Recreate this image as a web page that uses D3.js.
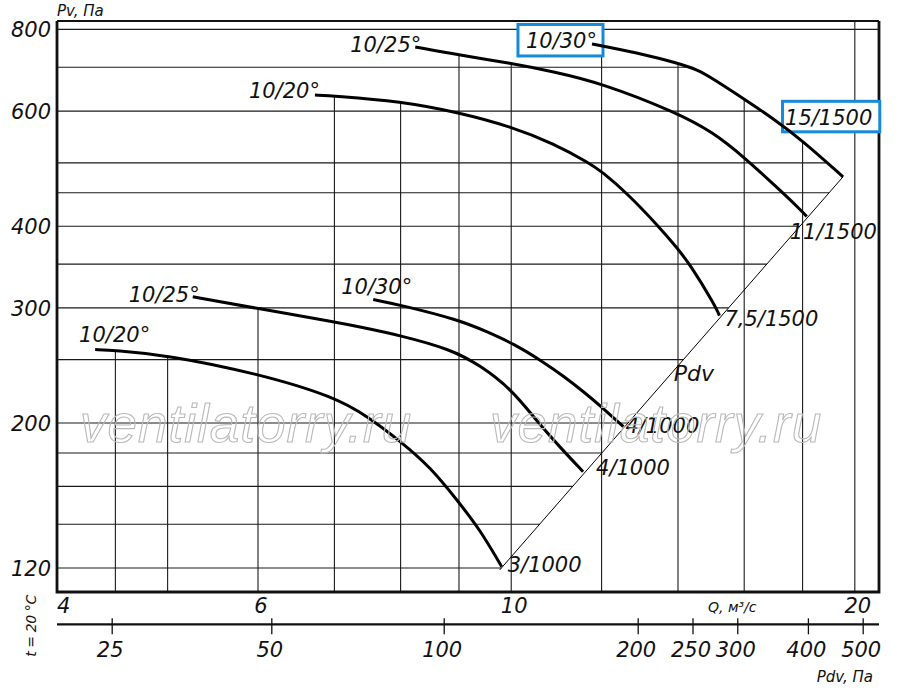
<!DOCTYPE html>
<html><head><meta charset="utf-8">
<script src="https://cdn.jsdelivr.net/npm/d3@7"></script>
<style>
html,body{margin:0;padding:0;background:#fff;}
svg{display:block;}
text{font-family:"DejaVu Sans",sans-serif;font-style:italic;fill:#111;}
</style></head><body>
<svg id="chart" width="900" height="694"></svg>
<script>
// ---------- data ----------
const qTickLabels = [4, 6, 10, 20];
const qGrid = [4.5, 5, 6, 7, 8, 9, 10, 12, 14, 16, 18, 20];
const pTickLabels = [120, 200, 300, 400, 600, 800];
const pGrid = [120, 140, 160, 180, 200, 250, 300, 350, 400, 450, 500, 600, 700, 800];
const pdvTickLabels = [25, 50, 100, 200, 250, 300, 400, 500];

// [Q m3/s, Pv Pa]
const upper20 = [[6.73,635],[7.0,633],[8.0,621],[9.0,597],[10.0,568],[10.9,535],[11.72,499],[12.0,485],[12.62,450],[13.46,400],[13.93,373],[14.34,350],[15.08,303],[15.22,292]];
const upper25 = [[8.24,752],[9.0,731],[10.0,710],[10.9,689],[12.0,662],[13.93,598],[15.03,557],[16.0,510],[17.2,454],[17.97,422],[18.15,414]];
const upper30 = [[11.77,760],[12.0,755],[13.14,731],[13.93,712],[14.58,694],[15.03,672],[16.0,626],[16.97,584],[17.97,542],[19.53,476]];
const lower20 = [[4.32,259],[4.49,258.4],[5.0,254],[6.0,238],[7.0,219.4],[7.49,204.5],[8.0,187.4],[8.49,171.5],[9.01,150.8],[9.39,137.3],[9.81,120.6]];
const lower25 = [[5.26,312],[6.0,299.3],[7.0,285.5],[7.37,280.5],[8.0,272.2],[8.84,259.5],[9.39,245.2],[10.02,224.7],[10.51,202.1],[11.03,183.8],[11.56,168.5]];
const lower30 = [[7.57,309],[8.0,303],[9.01,287.4],[9.52,275.9],[10.03,264.9],[10.67,248],[11.11,236],[11.61,222.3],[12.0,211.6],[12.54,197.5]];
const pdvLine = [[9.77,119.2],[19.53,476]];

const curves = [upper20, upper25, upper30, lower20, lower25, lower30];
const startLabels = ["10/20°", "10/25°", "10/30°", "10/20°", "10/25°", "10/30°"];
const endLabels = ["7,5/1500", "11/1500", "15/1500", "3/1000", "4/1000", "4/1000"];

// ---------- layout (pixel offsets of annotations) ----------
const startOff = [[5,3],[6,5],[5,4],[55,-8],[7,5],[39,-5]];      // anchor end
const endOff = [[5,10],[-17,23],[-58,-52],[6,5],[13,3],[2,6]];    // anchor start
const boxed = {start: [2], end: [2]};
const boxPad = {start: [8, 4.5, 6, 3], end: [2.5, 4.5, 7.5, 2]}; // l,t,r,b

const svg = d3.select("#chart");
svg.append("rect").attr("width", 900).attr("height", 694).attr("fill", "#fff");

const L = 57, R = 879, T = 21, B = 592;
const x = d3.scaleLog().domain([4, 21]).range([L, R]);
const y = d3.scaleLog().domain([110.3, 824]).range([B, T]);
const xPdv = d3.scaleLog().domain([25, 50, 100, 200, 500]).range([111.7, 271.3, 443.7, 637.7, 862.7]);

const lg = Math.log;
function interpP(c, q) {
  if (q < c[0][0] || q > c[c.length-1][0]) return null;
  for (let i = 0; i < c.length - 1; i++) {
    if (q >= c[i][0] && q <= c[i+1][0]) {
      const t = (lg(q) - lg(c[i][0])) / (lg(c[i+1][0]) - lg(c[i][0]));
      return Math.exp(lg(c[i][1]) + t * (lg(c[i+1][1]) - lg(c[i][1])));
    }
  }
  return null;
}
function crossQ(c, p) {
  for (let i = 0; i < c.length - 1; i++) {
    const a = c[i][1], b = c[i+1][1];
    if ((a >= p && b <= p) || (a <= p && b >= p)) {
      const t = (lg(p) - lg(a)) / (lg(b) - lg(a));
      return Math.exp(lg(c[i][0]) + t * (lg(c[i+1][0]) - lg(c[i][0])));
    }
  }
  return null;
}
function hEnd(p) {
  if (p <= pdvLine[1][1]) return crossQ(pdvLine, p);
  if (p <= upper30[0][1]) return crossQ(upper30, p);
  return 21;
}
function vTop(q) {
  let best = null;
  curves.forEach(c => { const v = interpP(c, q); if (v !== null && (best === null || v > best)) best = v; });
  return best === null ? y.domain()[1] : best;
}

// ---------- grid ----------
const grid = svg.append("g").attr("stroke", "#1a1a1a").attr("stroke-width", 1.1);
grid.selectAll("line.h").data(pGrid).join("line")
  .attr("x1", L).attr("x2", p => x(hEnd(p)))
  .attr("y1", p => y(p)).attr("y2", p => y(p));
grid.selectAll("line.v").data(qGrid).join("line")
  .attr("x1", q => x(q)).attr("x2", q => x(q))
  .attr("y1", q => y(vTop(q))).attr("y2", B);

// ---------- frame ----------
svg.append("line").attr("x1", L).attr("x2", R).attr("y1", T).attr("y2", T).attr("stroke", "#111").attr("stroke-width", 2);
svg.append("path").attr("d", `M${L},${T} V${B} H${R} V${T}`).attr("fill", "none").attr("stroke", "#111").attr("stroke-width", 2.8);

// ---------- curves, labels & boxes ----------
const boxLayer = svg.append("g");
const curveLayer = svg.append("g");
const textLayer = svg.append("g");

const line = d3.line().x(d => x(d[0])).y(d => y(d[1])).curve(d3.curveBasis);
curveLayer.selectAll("path.c").data(curves).join("path")
  .attr("d", line).attr("fill", "none").attr("stroke", "#000").attr("stroke-width", 3);

curveLayer.append("path").datum(pdvLine)
  .attr("d", d3.line().x(d => x(d[0])).y(d => y(d[1])))
  .attr("fill", "none").attr("stroke", "#000").attr("stroke-width", 1);

function addBox(node, pad) {
  const bb = node.getBBox();
  boxLayer.append("rect")
    .attr("x", bb.x - pad[0]).attr("y", bb.y - pad[1])
    .attr("width", bb.width + pad[0] + pad[2]).attr("height", bb.height + pad[1] + pad[3])
    .attr("fill", "#fff").attr("stroke", "#168ad8").attr("stroke-width", 3);
}

curves.forEach((c, i) => {
  const s = c[0], e = c[c.length - 1];
  const t1 = textLayer.append("text").attr("font-size", 21).attr("text-anchor", "end")
    .attr("x", x(s[0]) + startOff[i][0]).attr("y", y(s[1]) + startOff[i][1]).text(startLabels[i]);
  if (boxed.start.includes(i)) addBox(t1.node(), boxPad.start);
  const t2 = textLayer.append("text").attr("font-size", 21).attr("text-anchor", "start")
    .attr("x", x(e[0]) + endOff[i][0]).attr("y", y(e[1]) + endOff[i][1]).text(endLabels[i]);
  if (boxed.end.includes(i)) addBox(t2.node(), boxPad.end);
});

// Pdv label on the Pdv line
{
  const t = 0.51;
  const q = Math.exp(lg(pdvLine[0][0]) + t * (lg(pdvLine[1][0]) - lg(pdvLine[0][0])));
  const p = Math.exp(lg(pdvLine[0][1]) + t * (lg(pdvLine[1][1]) - lg(pdvLine[0][1])));
  textLayer.append("text").attr("font-size", 22).attr("x", x(q) - 1).attr("y", y(p) + 12).text("Pdv");
}

// ---------- axes ----------
const ax = svg.append("g");
ax.selectAll("text.py").data(pTickLabels).join("text")
  .attr("font-size", 21).attr("text-anchor", "end")
  .attr("x", L - 6).attr("y", p => y(p) + 8).text(p => p);
ax.append("text").attr("font-size", 15).attr("x", L).attr("y", 16).text("Pv, Па");

ax.selectAll("text.qx").data(qTickLabels).join("text")
  .attr("font-size", 21).attr("text-anchor", (d, i) => i === 0 ? "start" : "middle")
  .attr("x", (d, i) => x(d) + (i === 0 ? 0 : 3)).attr("y", 613).text(d => d);
ax.append("text").attr("font-size", 14).attr("x", 708).attr("y", 612).text("Q, м³/с");

// Pdv axis
const pdvY = 624.3;
svg.append("line").attr("x1", L).attr("x2", R).attr("y1", pdvY).attr("y2", pdvY)
  .attr("stroke", "#111").attr("stroke-width", 2.2);
const pAx = svg.append("g").attr("transform", `translate(0,${pdvY})`)
  .call(d3.axisBottom(xPdv).tickValues(pdvTickLabels).tickSize(10).tickFormat(d3.format("d")));
pAx.select(".domain").remove();
pAx.selectAll(".tick line").attr("y1", -6).attr("y2", 10).attr("stroke", "#111").attr("stroke-width", 1.3);
pAx.selectAll(".tick text").attr("font-size", 21).attr("font-family", "DejaVu Sans")
  .attr("y", 33).attr("dy", 0).attr("dx", -2).attr("fill", "#111");
svg.append("text").attr("font-size", 15).attr("text-anchor", "end").attr("x", 873).attr("y", 682).text("Pdv, Па");

svg.append("text").attr("font-size", 14).attr("text-anchor", "middle").attr("letter-spacing", -0.4)
  .attr("transform", "translate(36,626) rotate(-90)").text("t = 20 °C");

// ---------- watermark ----------
const wm = svg.append("g").attr("fill", "none").attr("stroke", "#b9b9b9").attr("stroke-width", 1.1);
[80, 490].forEach(wx => {
  wm.append("text").attr("x", wx).attr("y", 442)
    .style("font-family", "'Liberation Sans', Arial, sans-serif").style("font-style", "italic")
    .style("fill", "none").attr("font-size", 53).attr("letter-spacing", 1).text("ventilatorry.ru");
});
</script>
</body></html>
